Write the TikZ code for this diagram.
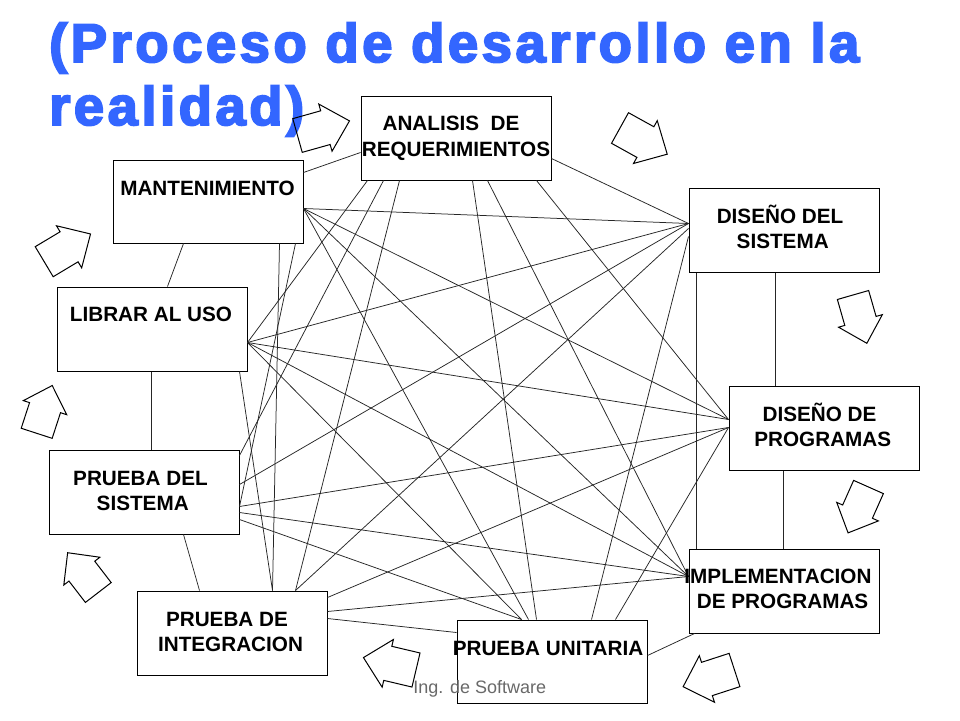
\documentclass[tikz,border=0pt]{standalone}
\usepackage{fontspec}
\setmainfont{Liberation Sans}
\newfontfamily\titlefont[LetterSpace=6.4,FakeBold=3.5]{Liberation Sans}
\usetikzlibrary{calc}
\definecolor{titleblue}{RGB}{51,102,255}
\definecolor{footgray}{RGB}{105,105,105}
\begin{document}
\begin{tikzpicture}[x=1pt,y=-1pt,
  box/.style={draw=black,line width=1pt,fill=white,minimum width=190pt,minimum height=84pt,inner sep=0pt},
  lbl/.style={font=\bfseries\fontsize{20.7}{25}\selectfont,inner sep=0pt,anchor=base},
  ttl/.style={font=\titlefont\bfseries\fontsize{54.5}{60}\selectfont,text=titleblue,inner sep=0pt,anchor=base west},
  conn/.style={draw=black!85,line width=0.75pt},
  arrowline/.style={draw=black,line width=1pt,line join=miter},
  blockarrow/.pic={\path[arrowline] (0,-17.5) -- (29,-17.5) -- (29,-24.5) -- (54,0) -- (29,24.5) -- (29,17.5) -- (0,17.5) -- cycle;}
]
\useasboundingbox[fill=white] (0,0) rectangle (960,720);

% title
\node[ttl] (t1) at (49,62) {(Proceso de desarrollo en la};
\node[ttl] (t2) at (49,125) {realidad)};

% boxes
\node[box] (A) at (456,138) {};
\node[box,minimum height=83pt] (M) at (208,201.5) {};
\node[box] (D) at (784,230) {};
\node[box] (L) at (152,329) {};
\node[box] (G) at (824,428) {};
\node[box] (S) at (144,492) {};
\node[box] (P) at (784,591) {};
\node[box] (I) at (232,633) {};
\node[box,minimum height=83pt] (U) at (552,661.5) {};

% hub points
\coordinate (al) at ($(A.north west)+(0,57)$);
\coordinate (ar) at ($(A.north east)+(0,63)$);
\coordinate (a1) at ($(A.south west)+(7,0)$);
\coordinate (a2) at ($(A.south west)+(23,0)$);
\coordinate (a3) at ($(A.south west)+(39,0)$);
\coordinate (a4) at ($(A.south west)+(112,0)$);
\coordinate (a5) at ($(A.south west)+(127,0)$);
\coordinate (a6) at ($(A.south west)+(176,0)$);

\coordinate (mr) at ($(M.north east)+(0,13)$);
\coordinate (mh) at ($(M.north east)+(0,49)$);
\coordinate (mb1) at ($(M.south west)+(71,0)$);
\coordinate (mb2) at ($(M.south west)+(167,0)$);
\coordinate (mb3) at ($(M.south west)+(183,0)$);

\coordinate (lt) at ($(L.north west)+(111,0)$);
\coordinate (lh) at ($(L.north east)+(0,56)$);
\coordinate (lb1) at ($(L.south west)+(95,0)$);
\coordinate (lb2) at ($(L.south west)+(183,0)$);

\coordinate (st) at ($(S.north west)+(103,0)$);
\coordinate (sr1) at ($(S.north east)+(0,6)$);
\coordinate (sr2) at ($(S.north east)+(0,35)$);
\coordinate (sr3) at ($(S.north east)+(0,57)$);
\coordinate (sr4) at ($(S.north east)+(0,63)$);
\coordinate (sr5) at ($(S.north east)+(0,70)$);
\coordinate (sb) at ($(S.south west)+(135,0)$);

\coordinate (it0) at ($(I.north west)+(63,0)$);
\coordinate (it1) at ($(I.north west)+(136,0)$);
\coordinate (it2) at ($(I.north west)+(159,0)$);
\coordinate (ir1) at ($(I.north east)+(0,7)$);
\coordinate (ir2) at ($(I.north east)+(0,21)$);
\coordinate (ir3) at ($(I.north east)+(0,28)$);

\coordinate (ul) at ($(U.north west)+(0,13)$);
\coordinate (ut1) at ($(U.north west)+(65,0)$);
\coordinate (ut2) at ($(U.north west)+(72,0)$);
\coordinate (ut3) at ($(U.north west)+(80,0)$);
\coordinate (ut4) at ($(U.north west)+(135,0)$);
\coordinate (ut5) at ($(U.north west)+(159,0)$);
\coordinate (ur) at ($(U.north east)+(0,36)$);

\coordinate (ph) at ($(P.north west)+(0,28)$);
\coordinate (pt1) at ($(P.north west)+(8,0)$);
\coordinate (pt2) at ($(P.north west)+(95,0)$);
\coordinate (pbl) at ($(P.south west)+(6,0)$);

\coordinate (gh1) at ($(G.north west)+(0,34)$);
\coordinate (gh2) at ($(G.north west)+(0,42)$);
\coordinate (gt) at ($(G.north west)+(47,0)$);
\coordinate (gb) at ($(G.south west)+(55,0)$);

\coordinate (dh1) at ($(D.north west)+(0,36)$);
\coordinate (dh2) at ($(D.north west)+(0,41)$);
\coordinate (dh3) at ($(D.north west)+(0,49)$);
\coordinate (db1) at ($(D.south west)+(8,0)$);
\coordinate (db2) at ($(D.south west)+(87,0)$);

% neighbouring connections
\draw[conn] (al) -- (mr);
\draw[conn] (ar) -- (dh1);
\draw[conn] (db2) -- (gt);
\draw[conn] (gb) -- (pt2);
\draw[conn] (pbl) -- (ur);
\draw[conn] (ul) -- (ir3);
\draw[conn] (it0) -- (sb);
\draw[conn] (st) -- (lb1);
\draw[conn] (lt) -- (mb1);
\draw[conn] (db1) -- (pt1);

% cross connections
\draw[conn] (a1) -- (lh);
\draw[conn] (a2) -- (sr1);
\draw[conn] (a3) -- (it2);
\draw[conn] (a4) -- (ut3);
\draw[conn] (a5) -- (ph);
\draw[conn] (a6) -- (gh1);

\draw[conn] (mh) -- (dh1);
\draw[conn] (mh) -- (gh1);
\draw[conn] (mh) -- (ph);
\draw[conn] (mh) -- (ut2);
\draw[conn] (mb2) -- (it1);
\draw[conn] (mb3) -- (sr3);

\draw[conn] (lh) -- (dh1);
\draw[conn] (lh) -- (gh1);
\draw[conn] (lh) -- (ph);
\draw[conn] (lh) -- (ut1);
\draw[conn] (lb2) -- (it1);

\draw[conn] (sr2) -- (dh1);
\draw[conn] (sr3) -- (gh2);
\draw[conn] (sr4) -- (ph);
\draw[conn] (sr5) -- (ut1);

\draw[conn] (it2) -- (dh2);
\draw[conn] (ir1) -- (gh2);
\draw[conn] (ir2) -- (ph);

\draw[conn] (ut4) -- (dh3);
\draw[conn] (ut5) -- (gh2);

% box labels
\node[lbl] (A1) at (451,130.7) {ANALISIS~ DE};
\node[lbl] (A2) at (456,156.7) {REQUERIMIENTOS};
\node[lbl] (M1) at (207.5,195) {MANTENIMIENTO};
\node[lbl] (D1) at (780,223.3) {DISEÑO DEL};
\node[lbl] (D2) at (782.7,248.3) {SISTEMA};
\node[lbl] (G1) at (819.5,421.7) {DISEÑO DE};
\node[lbl] (G2) at (822.8,446.7) {PROGRAMAS};
\node[lbl] (L1) at (151,321.7) {LIBRAR AL USO};
\node[lbl] (S1) at (140.5,485) {PRUEBA DEL};
\node[lbl] (S2) at (142.7,510) {SISTEMA};
\node[lbl] (I1) at (227,626.7) {PRUEBA DE};
\node[lbl] (I2) at (230.5,651.7) {INTEGRACION};
\node[lbl] (U1) at (548,655) {PRUEBA UNITARIA};
\node[lbl] (P1) at (778,583.5) {IMPLEMENTACION};
\node[lbl] (P2) at (782.6,608.5) {DE PROGRAMAS};

% block arrows
\pic[rotate=15.7] at (297.5,135.5) {blockarrow};
\pic[rotate=-29] at (620,128) {blockarrow};
\pic[rotate=-74,scale=0.93] at (853,295) {blockarrow};
\pic[rotate=-114,scale=0.93] at (868.5,487) {blockarrow};
\pic[rotate=-162] at (734.5,670) {blockarrow};
\pic[rotate=166.7] at (416,670) {blockarrow};
\pic[rotate=127.6,scale=0.93] at (98.3,592.5) {blockarrow};
\pic[rotate=72,scale=0.93] at (36.7,433.3) {blockarrow};
\pic[rotate=30.9] at (44.2,261.7) {blockarrow};

% footer
\node[font=\fontsize{18}{20}\selectfont,text=footgray,inner sep=0pt,anchor=base] (foot) at (479.7,693.3) {Ing. de Software};
\end{tikzpicture}
\end{document}
